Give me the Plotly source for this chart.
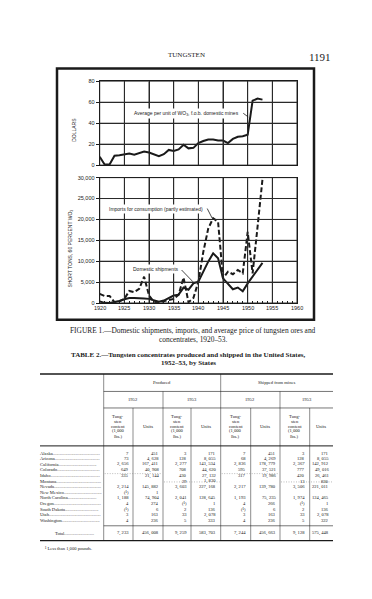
import plotly.graph_objects as go

W, H = 372, 599

# ---------------- chart data ----------------
years = list(range(1920, 1954))
price = [8, 0.6, 0.6, 9, 9.5, 10.5, 11, 10, 11.5, 13, 12, 10.5, 8.5, 10.5, 14.5, 13.5, 15, 19.5,
         16, 16.5, 21, 23, 24.5, 24.5, 23.5, 23.5, 21, 25, 27, 27.5, 29, 61.5, 63.5, 62.5]
imports = [2200, 1700, 1700, 200, 400, 1000, 2900, 2600, 3400, 6300, 1800, 300, 150, 400, 800,
           1000, 2000, 6100, 200, 1200, 5100, 12200, 17800, 20300, 19400, 5900, 7500, 6900,
           7900, 7100, 17000, 7100, 18200, 29600]
domestic = [400, 50, 0, 200, 500, 900, 1200, 1200, 1200, 1100, 1000, 700, 300, 600, 1200, 1800,
            2000, 3700, 3200, 4700, 5100, 7500, 9900, 11900, 10700, 5900, 4700, 3300, 3700, 2800,
            4700, 6300, 7900, 9600]
price_ticks = [0, 20, 40, 60, 80]
tons_ticks = [0, 5000, 10000, 15000, 20000, 25000, 30000]
tons_labels = ["0", "5,000", "10,000", "15,000", "20,000", "25,000", "30,000"]
year_ticks = [1920, 1925, 1930, 1935, 1940, 1945, 1950, 1955, 1960]

# ---------------- table data ----------------
states = ["Alaska", "Arizona", "California", "Colorado", "Idaho", "Montana", "Nevada",
          "New Mexico", "North Carolina", "Oregon", "South Dakota", "Utah", "Washington"]
prod52_content = ["7", "73", "2, 656", "649", "335", "", "2, 214", "(¹)", "1, 188", "4", "(¹)", "3", "4"]
prod52_units = ["451", "4, 628", "167, 411", "40, 908", "21, 144", "", "145, 882", "1", "74, 904", "274", "6", "163", "236"]
prod53_content = ["3", "128", "2, 277", "708", "430", "29", "3, 603", "", "2, 041", "(¹)", "2", "33", "5"]
prod53_units = ["171", "8, 055", "143, 534", "44, 620", "27, 132", "1, 830", "227, 168", "", "128, 645", "1", "136", "2, 078", "333"]
ship52_content = ["7", "68", "2, 836", "595", "317", "", "2, 217", "", "1, 193", "4", "(¹)", "3", "4"]
ship52_units = ["451", "4, 269", "178, 779", "37, 521", "19, 986", "", "139, 780", "", "75, 235", "266", "6", "163", "236"]
ship53_content = ["3", "128", "2, 367", "777", "420", "13", "3, 506", "", "1, 974", "(¹)", "2", "33", "5"]
ship53_units = ["171", "8, 055", "142, 912", "49, 016", "26, 461", "830", "221, 011", "", "124, 465", "1", "136", "2, 078", "322"]
totals = ["7, 233", "456, 008", "9, 259", "583, 703", "7, 244", "456, 663", "9, 128", "575, 448"]
content_head = ["Tung-", "sten", "content", "(1,000", "lbs.)"]


def px(x):
    return x / W


def py(y):
    return 1 - y / H


INK = "#1a1a1a"
CHART_FONT = "Liberation Sans"
SERIF = "Liberation Serif"

fig = go.Figure()

fig.add_trace(go.Scatter(x=years, y=price, mode="lines", line=dict(color=INK, width=2),
                         xaxis="x", yaxis="y", showlegend=False, hoverinfo="skip"))
fig.add_trace(go.Scatter(x=years, y=imports, mode="lines", line=dict(color=INK, width=2, dash="5px,2.5px"),
                         xaxis="x2", yaxis="y2", showlegend=False, hoverinfo="skip"))
fig.add_trace(go.Scatter(x=years, y=domestic, mode="lines", line=dict(color=INK, width=2),
                         xaxis="x2", yaxis="y2", showlegend=False, hoverinfo="skip"))

xdom = [px(91.7), px(289)]
axis_common = dict(showline=True, linecolor=INK, linewidth=1.2, mirror=True, showgrid=True,
                   gridcolor="#2a2a2a", gridwidth=1,
                   zeroline=False, tickfont=dict(family=CHART_FONT, size=5.5, color=INK))

fig.update_layout(
    width=W, height=H, margin=dict(l=0, r=0, t=0, b=0),
    paper_bgcolor="white", plot_bgcolor="rgba(0,0,0,0)",
    xaxis=dict(domain=xdom, range=[1920, 1960], tickmode="array", tickvals=year_ticks, showticklabels=False,
               anchor="y", **axis_common),
    yaxis=dict(domain=[py(155.7), py(71)], range=[0, 80], tickmode="array", tickvals=price_ticks, ticks="outside",
               ticklen=3, tickcolor=INK, anchor="x", **axis_common),
    xaxis2=dict(domain=xdom, range=[1920, 1960], tickmode="array", tickvals=year_ticks, ticks="", anchor="y2",
                showticklabels=False,
                minor=dict(tickmode="linear", tick0=1920, dtick=1, ticks="inside", ticklen=2, tickcolor=INK, showgrid=False),
                **axis_common),
    yaxis2=dict(domain=[py(295), py(168.3)], range=[0, 30000], tickmode="array", tickvals=tons_ticks,
                ticktext=tons_labels, ticks="outside", ticklen=3, tickcolor=INK, anchor="x2",
                **axis_common),
)

shapes = []
annotations = []

# grid lines (explicit, drawn through the axes' own scales)
GRID = dict(color="#2a2a2a", width=1)
for xa, ya, yt in (("x", "y", price_ticks), ("x2", "y2", tons_ticks)):
    for yr in year_ticks:
        shapes.append(dict(type="line", xref=xa, yref=ya, x0=yr, x1=yr, y0=yt[0], y1=yt[-1],
                           line=GRID, layer="above"))
    for v in yt:
        shapes.append(dict(type="line", xref=xa, yref=ya, x0=year_ticks[0], x1=year_ticks[-1], y0=v, y1=v,
                           line=GRID, layer="above"))

# frame around the figure
shapes.append(dict(type="rect", xref="paper", yref="paper", x0=px(49), x1=px(306), y0=py(312), y1=py(58),
                   line=dict(color=INK, width=2.5)))

# chart labels and leaders
annotations.append(dict(x=1937.5, y=49.5, xref="x", yref="y", text="Average per unit of WO<sub>3</sub>, f.o.b. domestic mines",
                        showarrow=False, bgcolor="white", xanchor="center",
                        font=dict(family=CHART_FONT, size=5, color=INK)))
shapes.append(dict(type="line", xref="x", yref="y", x0=1949.1, y0=49.5, x1=1950.1, y1=46,
                   line=dict(color=INK, width=0.8)))
annotations.append(dict(x=1931.5, y=22600, xref="x2", yref="y2", text="Imports for consumption (partly estimated)",
                        showarrow=False, bgcolor="white", xanchor="center",
                        font=dict(family=CHART_FONT, size=5, color=INK)))
shapes.append(dict(type="line", xref="x2", yref="y2", x0=1941.8, y0=22600, x1=1942.8, y1=20300,
                   line=dict(color=INK, width=0.8)))
annotations.append(dict(x=1931.4, y=8100, xref="x2", yref="y2", text="Domestic shipments",
                        showarrow=False, bgcolor="white", xanchor="center",
                        font=dict(family=CHART_FONT, size=5, color=INK)))
shapes.append(dict(type="line", xref="x2", yref="y2", x0=1936.6, y0=7900, x1=1938.9, y1=5100,
                   line=dict(color=INK, width=0.8)))

# y titles
annotations.append(dict(x=px(66), y=py(120), xref="paper", yref="paper", text="DOLLARS", textangle=-90,
                        xanchor="center", yanchor="middle",
                        showarrow=False, font=dict(family=CHART_FONT, size=5, color=INK)))
annotations.append(dict(x=px(63), y=py(240), xref="paper", yref="paper",
                        text="SHORT TONS, 60 PERCENT WO<sub>3</sub>", textangle=-90,
                        xanchor="center", yanchor="middle",
                        showarrow=False, font=dict(family=CHART_FONT, size=5, color=INK)))
# x tick labels (lower panel)
for yr in year_ticks:
    annotations.append(dict(x=yr, y=py(300.5), xref="x2", yref="paper", text=str(yr), showarrow=False,
                            xanchor="center", yanchor="middle",
                            font=dict(family=CHART_FONT, size=5.5, color=INK)))

# page header
annotations.append(dict(x=px(178), y=py(38), xref="paper", yref="paper", text="TUNGSTEN", showarrow=False,
                        xanchor="center", font=dict(family=SERIF, size=7, color=INK)))
annotations.append(dict(x=px(325), y=py(38), xref="paper", yref="paper", text="1191", showarrow=False,
                        xanchor="right", font=dict(family=SERIF, size=11, color=INK)))

# captions
annotations.append(dict(x=px(185), y=py(323), xref="paper", yref="paper",
                        text="FIGURE 1.—Domestic shipments, imports, and average price of tungsten ores and",
                        xanchor="center", showarrow=False, font=dict(family=SERIF, size=7.4, color=INK)))
annotations.append(dict(x=px(185), y=py(332), xref="paper", yref="paper", text="concentrates, 1920–53.",
                        xanchor="center", showarrow=False, font=dict(family=SERIF, size=7.4, color=INK)))
annotations.append(dict(x=px(180), y=py(347), xref="paper", yref="paper",
                        text="<b>TABLE 2.—Tungsten concentrates produced and shipped in the United States,</b>",
                        xanchor="center", showarrow=False, font=dict(family=SERIF, size=7, color=INK)))
annotations.append(dict(x=px(180), y=py(356), xref="paper", yref="paper", text="<b>1952–53, by States</b>",
                        xanchor="center", showarrow=False, font=dict(family=SERIF, size=7, color=INK)))

# ---------------- table ----------------
TF = dict(family=SERIF, size=4.6, color=INK)
vx = [95.7, 125, 155, 183, 212.7, 242.7, 272, 301.7]
right_edge = 325
left_edge = 32


def hline(y, x0, x1, w=0.6, dash=None, color=INK):
    ln = dict(color=color, width=w)
    if dash:
        ln["dash"] = dash
    shapes.append(dict(type="line", xref="paper", yref="paper", x0=px(x0), x1=px(x1), y0=py(y), y1=py(y), line=ln))


def vline(x, y0, y1, w=0.5):
    shapes.append(dict(type="line", xref="paper", yref="paper", x0=px(x), x1=px(x), y0=py(y0), y1=py(y1),
                       line=dict(color=INK, width=w)))


hline(366.7, left_edge, right_edge, 1.4)
hline(384.3, vx[0], right_edge)
hline(401, vx[0], right_edge)
hline(439.3, left_edge, right_edge, 1.0)
hline(520, vx[0], right_edge)
hline(535, left_edge, right_edge, 1.4)
for i, x in enumerate(vx):
    if i in (0, 4):
        y0 = 366.7
    elif i in (2, 6):
        y0 = 384.3
    else:
        y0 = 401
    vline(x, y0, 535)
# dotted separators
DOT = "#777777"
hline(467.3, vx[0] + 1, vx[2] - 1, 0.5, "1px,1.5px", DOT)
hline(467.3, vx[4] + 1, vx[6] - 1, 0.5, "1px,1.5px", DOT)
hline(475.7, vx[2] + 1, vx[4] - 1, 0.5, "1px,1.5px", DOT)
hline(475.7, vx[6] + 1, right_edge - 1, 0.5, "1px,1.5px", DOT)


def t(x, y, text, anchor="center", font=TF):
    annotations.append(dict(x=px(x), y=py(y), xref="paper", yref="paper", text=text, showarrow=False,
                            xanchor=anchor, yanchor="middle", font=font))


t((vx[0] + vx[4]) / 2, 375, "Produced")
t((vx[4] + right_edge) / 2, 375, "Shipped from mines")
col_edges = vx + [right_edge]
year_heads = ["1952", "1953", "1952", "1953"]
for k in range(4):
    t((col_edges[2 * k] + col_edges[2 * k + 2]) / 2, 392.7, year_heads[k])
for k in range(8):
    cx = (col_edges[k] + col_edges[k + 1]) / 2
    if k % 2 == 0:
        for j, line in enumerate(content_head):
            t(cx, 409.5 + j * 5, line)
    else:
        t(cx, 419.5, "Units")

columns = [prod52_content, prod52_units, prod53_content, prod53_units,
           ship52_content, ship52_units, ship53_content, ship53_units]
for i, st in enumerate(states):
    y = 446.7 + i * 5.64
    ndots = max(3, int((62 - len(st) * 2.3) / 1.15))
    t(30, y, st + "." * ndots, anchor="left")
    for k, col in enumerate(columns):
        if col[i]:
            t(col_edges[k + 1] - 2.5, y, col[i], anchor="right")
t(45, 527.5, "Total" + "." * 26, anchor="left")
for k, v in enumerate(totals):
    t(col_edges[k + 1] - 2.5, 527.5, v, anchor="right")

t(35, 543.3, "¹ Less than 1,000 pounds.", anchor="left")

fig.update_layout(shapes=shapes, annotations=annotations)
fig.write_html("out.html")
